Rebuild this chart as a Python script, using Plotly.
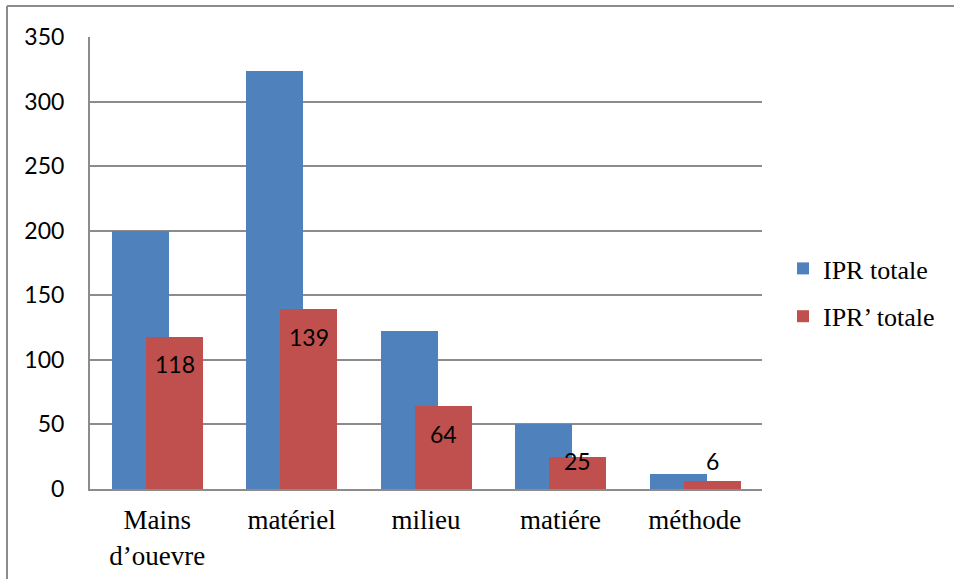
import plotly.graph_objects as go

# Categories and series values
categories = ["Mains<br>d’ouevre", "matériel", "milieu", "matiére", "méthode"]
ipr_totale = [200, 324, 122, 50, 12]
ipr_prime_totale = [118, 139, 64, 25, 6]
y_ticks = [0, 50, 100, 150, 200, 250, 300, 350]

BLUE = "#4F81BD"
RED = "#C0504D"
GRID = "#8C8C8C"
SANS = "Lato, Calibri, Carlito, sans-serif"
SERIF = "Liberation Serif, Times New Roman, serif"

# plot area in pixels (used to place the outer frame)
W, H = 954, 579
ML, MR, MT, MB = 90, 192, 37, 90
pw, ph = W - ML - MR, H - MT - MB

BAR_W = 0.424
OFF_BLUE = -0.336
OFF_RED = -0.083

fig = go.Figure()
fig.add_trace(go.Bar(
    x=categories, y=ipr_totale, name="IPR totale",
    marker=dict(color=BLUE, line=dict(width=0)),
    offset=OFF_BLUE, width=BAR_W, legendgroup="a",
))
fig.add_trace(go.Bar(
    x=categories, y=ipr_prime_totale, name="IPR’ totale",
    marker=dict(color=RED, line=dict(width=0)),
    offset=OFF_RED, width=BAR_W, legendgroup="b",
))

# value labels on the red bars, just below the bar top
for i, v in enumerate(ipr_prime_totale):
    fig.add_annotation(
        x=i, y=max(v - 21.3, 21.3), xref="x", yref="y",
        xshift=(OFF_RED + BAR_W / 2) * pw / len(categories),
        text=str(v), showarrow=False,
        font=dict(family=SANS, size=23, color="#000000"),
        xanchor="center", yanchor="middle",
    )

# outer frame: top and left edges
fx = -(ML - 7) / pw
fy_top = (ph + MT - 6) / ph
fig.add_shape(type="line", xref="paper", yref="paper",
              x0=fx, x1=(W - ML + 5) / pw, y0=fy_top, y1=fy_top,
              line=dict(color=GRID, width=2))
fig.add_shape(type="line", xref="paper", yref="paper",
              x0=fx, x1=fx, y0=fy_top, y1=-(MB + 5) / ph,
              line=dict(color=GRID, width=2))

fig.update_layout(
    width=W, height=H,
    margin=dict(l=ML, r=MR, t=MT, b=MB, pad=0, autoexpand=False),
    paper_bgcolor="white", plot_bgcolor="white",
    barmode="overlay",
    bargap=0,
    showlegend=True,
    legend=dict(
        x=1.0 + (783 - ML - pw) / pw, xanchor="left",
        y=(MT + ph - 245) / ph, yanchor="top",
        font=dict(family=SERIF, size=26, color="#000000"),
        tracegroupgap=11, bgcolor="rgba(0,0,0,0)",
        traceorder="grouped",
    ),
    xaxis=dict(
        type="category", range=[-0.5, 4.5], automargin=False,
        showline=True, linecolor=GRID, linewidth=2,
        showgrid=False, ticks="", ticklabelstandoff=6,
        tickfont=dict(family=SERIF, size=27, color="#000000"),
    ),
    yaxis=dict(
        range=[0, 350], tickvals=y_ticks, automargin=False,
        showline=True, linecolor=GRID, linewidth=2,
        showgrid=True, gridcolor=GRID, gridwidth=1.5,
        zeroline=False, ticks="", ticklabelstandoff=19,
        tickfont=dict(family=SANS, size=23, color="#000000"),
    ),
    hovermode=False,
)

fig.write_html("out.html")
